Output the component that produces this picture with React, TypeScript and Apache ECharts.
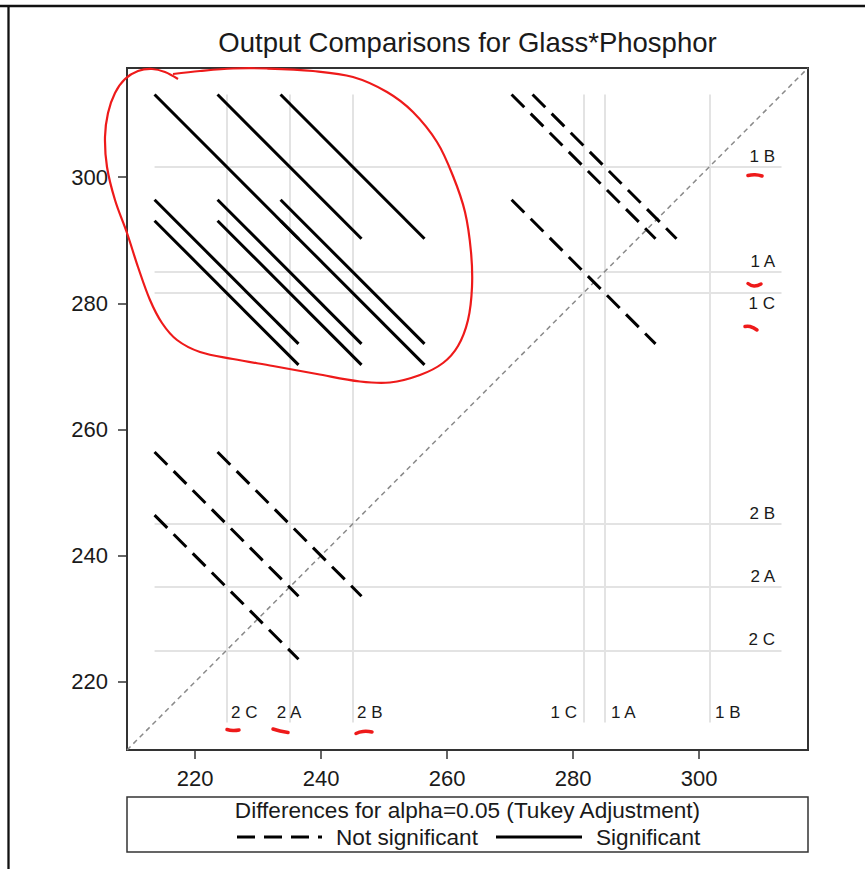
import React, { useEffect, useRef } from "react";
import * as echarts from "echarts";

// LS-means of Glass*Phosphor and the Tukey-adjusted interval width of a difference
const groupLabels = ["1 A", "1 B", "1 C", "2 A", "2 B", "2 C"];
const lsMeans = [285.0, 301.67, 281.67, 235.0, 245.0, 225.0];
const tukeyHalfWidth = 22.85;

// axis layout
const axisTicks = [220, 240, 260, 280, 300];
const axisMin = 209.2;
const axisMax = 317.3;

const FONT = 'Arial, "Liberation Sans", Helvetica, sans-serif';
const INK = "#1a1a1a";
const RED = "#ee1a1a";

// where each level's name sits along the bottom reference-line ends
const bottomLabelPlacement: Record<string, { align: string; dx: number }> = {
  "2 C": { align: "left", dx: 5 },
  "2 A": { align: "center", dx: 0 },
  "2 B": { align: "left", dx: 5 },
  "1 C": { align: "right", dx: -6 },
  "1 A": { align: "left", dx: 7 },
  "1 B": { align: "left", dx: 6 },
};
// names drawn under their horizontal reference line instead of above it
const rightLabelsBelow = ["1 C"];

function buildOption() {
  const half = tukeyHalfWidth / 2;
  const lo = Math.min(...lsMeans) - half;
  const hi = Math.max(...lsMeans) + half;

  const significant: any[] = [];
  const notSignificant: any[] = [];
  for (let i = 0; i < lsMeans.length; i++) {
    for (let j = i + 1; j < lsMeans.length; j++) {
      const x = Math.min(lsMeans[i], lsMeans[j]);
      const y = Math.max(lsMeans[i], lsMeans[j]);
      const seg = {
        coords: [
          [x - half, y + half],
          [x + half, y - half],
        ],
      };
      if (y - x > tukeyHalfWidth) significant.push(seg);
      else notSignificant.push(seg);
    }
  }

  const refLines: any[] = [];
  lsMeans.forEach((m) => {
    refLines.push({ coords: [[m, lo], [m, hi]] });
    refLines.push({ coords: [[lo, m], [hi, m]] });
  });

  const rightLabels = groupLabels.map((name, i) => ({
    value: [hi, lsMeans[i]],
    label: {
      formatter: name,
      align: "right",
      position: [-6, rightLabelsBelow.includes(name) ? 11 : -10],
    },
  }));

  const bottomLabels = groupLabels.map((name, i) => {
    const p = bottomLabelPlacement[name];
    return {
      value: [lsMeans[i], lo],
      label: {
        formatter: name,
        align: p.align,
        position: [p.dx, -9],
      },
    };
  });

  const axisCommon = {
    type: "value",
    min: axisMin,
    max: axisMax,
    axisLine: { show: true, onZero: false, lineStyle: { color: "#333", width: 2 } },
    axisTick: {
      show: true,
      length: 9,
      customValues: axisTicks,
      lineStyle: { color: "#333", width: 1.5 },
    },
    splitLine: { show: false },
  };

  // hand-drawn loop around the significant comparisons
  const loopPoints = [
    [173, 74], [200, 71], [233, 68.5], [267, 68.5], [313, 71], [353, 77],
    [387, 92], [413, 112], [437, 142], [453, 176], [465, 212], [471, 252],
    [472, 287], [468, 320], [458, 346], [443, 363], [420, 375], [390, 382.5],
    [360, 381.5], [317, 374], [273, 366], [233, 359], [200, 352], [177, 340],
    [162, 323], [150, 300], [138, 267], [127, 233], [115, 200], [107, 167],
    [105, 137], [108, 113], [115, 93], [125, 79], [138, 71], [152, 69],
    [165, 72], [178, 79],
  ];
  const ticks = [
    [[748, 175.5], [755, 174.8], [762, 176]],
    [[748, 283.5], [754, 286], [761, 284]],
    [[745, 326.5], [750, 326.5], [757, 330]],
    [[227, 729.5], [233, 730.5], [239, 730]],
    [[273, 729], [280, 731], [288, 732.5]],
    [[356, 733.5], [363, 731.5], [372, 732]],
  ];

  return {
    animation: false,
    backgroundColor: "#fff",
    textStyle: { fontFamily: FONT },
    grid: {
      left: 127,
      top: 68,
      width: 681,
      height: 682,
      show: true,
      borderColor: "#333",
      borderWidth: 2,
      containLabel: false,
    },
    xAxis: {
      ...axisCommon,
      axisLabel: {
        customValues: axisTicks,
        fontSize: 22,
        color: INK,
        fontFamily: FONT,
        margin: 17,
      },
    },
    yAxis: {
      ...axisCommon,
      axisLabel: {
        customValues: axisTicks,
        fontSize: 22,
        color: INK,
        fontFamily: FONT,
        margin: 19,
      },
    },
    series: [
      {
        type: "lines",
        coordinateSystem: "cartesian2d",
        silent: true,
        z: 1,
        lineStyle: { color: "#e3e3e3", width: 2, opacity: 1 },
        data: refLines,
      },
      {
        type: "line",
        silent: true,
        z: 2,
        showSymbol: false,
        symbol: "none",
        lineStyle: { color: "#8a8a8a", width: 1.5, type: [5, 4] },
        data: [
          [axisMin, axisMin],
          [axisMax, axisMax],
        ],
      },
      {
        name: "Not significant",
        type: "lines",
        coordinateSystem: "cartesian2d",
        silent: true,
        z: 3,
        lineStyle: { color: "#000", width: 3, opacity: 1, type: [18, 9] },
        data: notSignificant,
      },
      {
        name: "Significant",
        type: "lines",
        coordinateSystem: "cartesian2d",
        silent: true,
        z: 3,
        lineStyle: { color: "#000", width: 3, opacity: 1, type: "solid" },
        data: significant,
      },
      {
        type: "scatter",
        silent: true,
        z: 4,
        symbolSize: 1,
        itemStyle: { color: "rgba(255,255,255,0)" },
        label: {
          show: true,
          fontFamily: FONT,
          fontSize: 17,
          color: INK,
          opacity: 1,
          verticalAlign: "middle",
        },
        data: [...rightLabels, ...bottomLabels],
      },
    ],
    graphic: [
      // page frame
      { type: "line", shape: { x1: 0, y1: 6, x2: 865, y2: 6 }, style: { stroke: "#111", lineWidth: 2.4 } },
      { type: "line", shape: { x1: 8.5, y1: 6, x2: 8.5, y2: 869 }, style: { stroke: "#111", lineWidth: 2.3 } },
      {
        type: "text",
        x: 467.5,
        y: 42,
        style: {
          text: "Output Comparisons for Glass*Phosphor",
          fontFamily: FONT,
          fontSize: 27.5,
          fill: INK,
          align: "center",
          verticalAlign: "middle",
        },
      },
      // legend box
      {
        type: "rect",
        shape: { x: 127, y: 797, width: 681, height: 55 },
        style: { fill: "#fff", stroke: "#333", lineWidth: 1.5 },
      },
      {
        type: "text",
        x: 467.5,
        y: 810,
        style: {
          text: "Differences for alpha=0.05 (Tukey Adjustment)",
          fontFamily: FONT,
          fontSize: 22.6,
          fill: INK,
          align: "center",
          verticalAlign: "middle",
        },
      },
      {
        type: "line",
        shape: { x1: 237, y1: 837, x2: 322, y2: 837 },
        style: { stroke: "#000", lineWidth: 3, lineDash: [18, 9] },
      },
      {
        type: "text",
        x: 336,
        y: 837,
        style: {
          text: "Not significant",
          fontFamily: FONT,
          fontSize: 22.6,
          fill: INK,
          align: "left",
          verticalAlign: "middle",
        },
      },
      {
        type: "line",
        shape: { x1: 496, y1: 837, x2: 582, y2: 837 },
        style: { stroke: "#000", lineWidth: 3 },
      },
      {
        type: "text",
        x: 596,
        y: 837,
        style: {
          text: "Significant",
          fontFamily: FONT,
          fontSize: 22.6,
          fill: INK,
          align: "left",
          verticalAlign: "middle",
        },
      },
      // red pen marks
      {
        type: "polyline",
        z: 100,
        shape: { points: loopPoints, smooth: 0.35 },
        style: { stroke: RED, lineWidth: 2.2, fill: null },
      },
      ...ticks.map((pts) => ({
        type: "polyline",
        z: 100,
        shape: { points: pts, smooth: 0.5 },
        style: { stroke: RED, lineWidth: 3.5, fill: null, lineCap: "round" },
      })),
    ],
  };
}

export default function App() {
  const ref = useRef<HTMLDivElement>(null);
  useEffect(() => {
    if (!ref.current) return;
    const chart = echarts.init(ref.current, null, { renderer: "svg" });
    chart.setOption(buildOption() as any);
    return () => chart.dispose();
  }, []);
  return (
    <div
      ref={ref}
      style={{ position: "absolute", left: 0, top: 0, width: 865, height: 869, background: "#fff" }}
    />
  );
}
